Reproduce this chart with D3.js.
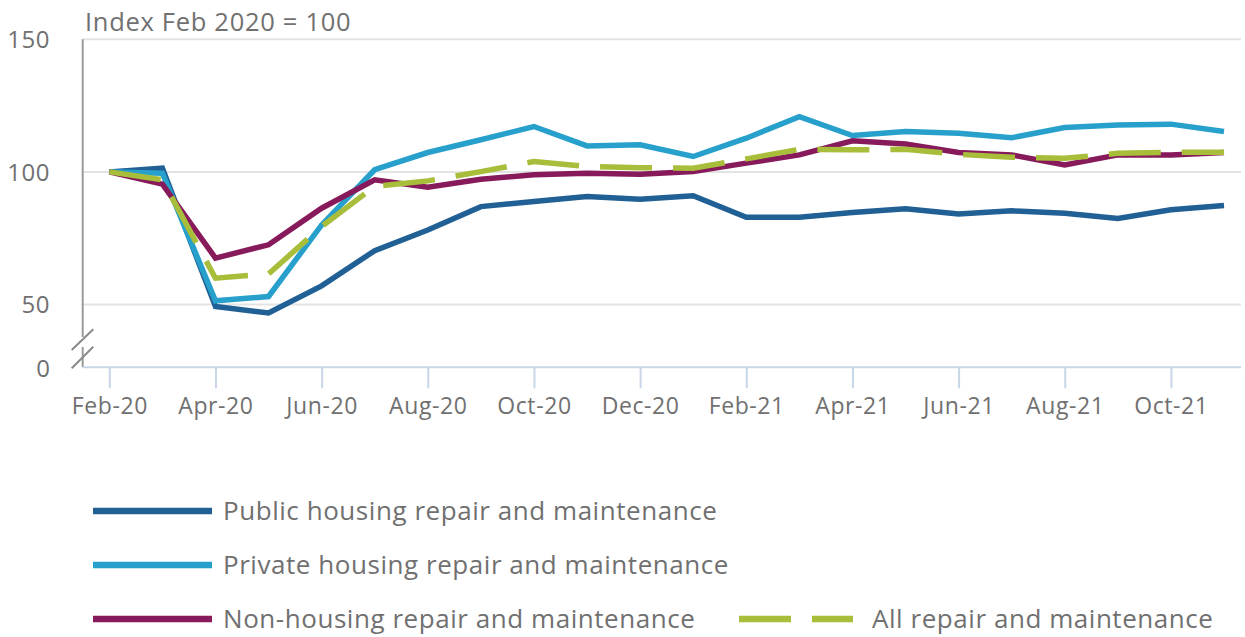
<!DOCTYPE html>
<html><head><meta charset="utf-8">
<script src="https://cdn.jsdelivr.net/npm/d3@7"></script>
<style>
body{margin:0;background:#fff;}
svg{display:block;font-family:"Open Sans",sans-serif;}
</style></head>
<body><svg id="c" width="1245" height="637"></svg>
<script>
const months = ["Feb-20","Mar-20","Apr-20","May-20","Jun-20","Jul-20","Aug-20","Sep-20","Oct-20","Nov-20","Dec-20","Jan-21","Feb-21","Mar-21","Apr-21","May-21","Jun-21","Jul-21","Aug-21","Sep-21","Oct-21","Nov-21"];
const xTickLabels = ["Feb-20","Apr-20","Jun-20","Aug-20","Oct-20","Dec-20","Feb-21","Apr-21","Jun-21","Aug-21","Oct-21"];
const yTickValues = [50,100,150];
const yBreakLabel = "0";
const publicHousing = [100,101.4,49.2,46.8,57.0,70.3,78.1,86.9,88.8,90.7,89.7,91.0,82.9,82.9,84.7,86.1,84.1,85.3,84.4,82.4,85.7,87.3];
const privateHousing = [100,99.5,51.4,53.0,80.0,100.8,107.3,112.1,117.1,109.8,110.2,105.8,112.7,120.8,113.7,115.2,114.6,112.9,116.7,117.7,118.0,115.2];
const nonHousing = [100,95.4,67.5,72.5,86.3,97.0,94.2,97.2,98.9,99.5,99.1,100.1,103.3,106.4,111.7,110.5,107.3,106.4,102.6,106.4,106.4,107.3];
const allRepair = [100,97.0,59.9,61.5,79.4,94.5,96.6,100.1,103.9,102.0,101.6,101.4,104.9,108.5,108.3,108.5,106.6,105.5,105.1,107.0,107.4,107.4];
const seriesNames = ["Public housing repair and maintenance","Private housing repair and maintenance","Non-housing repair and maintenance","All repair and maintenance"];
const yTitle = "Index Feb 2020 = 100";

const series = [
  {name: seriesNames[0], values: publicHousing, color: "#206095", dash: null},
  {name: seriesNames[1], values: privateHousing, color: "#27a0cc", dash: null},
  {name: seriesNames[2], values: nonHousing, color: "#871a5b", dash: null},
  {name: seriesNames[3], values: allRepair, color: "#a8bd3a", dash: "52,21"}
];

const svg = d3.select("#c");
const textCol = "#707070";
const pLeft = 82.7, pRight = 1241, pTop = 39.3, pBottom = 367.3;

const x = d3.scalePoint().domain(months).range([109.3, 1224]);
const y = d3.scaleLinear().domain([26.3, 150]).range([pBottom, pTop]);

// gridlines
svg.append("g").selectAll("line").data(yTickValues).join("line")
  .attr("x1", pLeft).attr("x2", pRight)
  .attr("y1", d => y(d)).attr("y2", d => y(d))
  .attr("stroke", "#e3e3e3").attr("stroke-width", 2);

// y labels
svg.append("g").selectAll("text").data(yTickValues).join("text")
  .attr("x", 50).attr("y", d => y(d)).attr("dy", "0.36em")
  .attr("text-anchor", "end").attr("fill", textCol).attr("font-size", 24)
  .attr("letter-spacing", 0.5)
  .text(d => d);
svg.append("text").attr("x", 50).attr("y", pBottom + 1).attr("dy", "0.36em")
  .attr("text-anchor", "end").attr("fill", textCol).attr("font-size", 24).text(yBreakLabel);

// y axis line with break
svg.append("line").attr("x1", pLeft).attr("x2", pLeft).attr("y1", pTop).attr("y2", 337)
  .attr("stroke", "#9a9a9a").attr("stroke-width", 2);
svg.append("line").attr("x1", pLeft).attr("x2", pLeft).attr("y1", 347).attr("y2", pBottom)
  .attr("stroke", "#9a9a9a").attr("stroke-width", 2);
[[350,329.3],[368.3,346.7]].forEach(([ya,yb]) => {
  svg.append("line").attr("x1", 71.7).attr("y1", ya).attr("x2", 93.3).attr("y2", yb)
    .attr("stroke", "#8a8a8a").attr("stroke-width", 2);
});

// x axis
const xAxis = d3.axisBottom(x).tickValues(xTickLabels).tickSize(21).tickPadding(9);
const gx = svg.append("g").attr("transform", `translate(0,${pBottom})`).call(xAxis);
gx.select(".domain").remove();
gx.selectAll(".tick line").attr("stroke", "#c9d6ea").attr("stroke-width", 2);
gx.selectAll(".tick text").attr("fill", textCol).attr("font-size", 23).attr("letter-spacing", 0.6)
  .attr("font-family", "Open Sans");
svg.append("line").attr("x1", pLeft).attr("x2", pRight).attr("y1", pBottom).attr("y2", pBottom)
  .attr("stroke", "#c9d6ea").attr("stroke-width", 2);

// title
svg.append("text").attr("x", 85).attr("y", 31).attr("fill", textCol).attr("font-size", 25.5)
  .attr("letter-spacing", 0.7).text(yTitle);

// lines
const line = d3.line().x((d,i) => x(months[i])).y(d => y(d));
series.forEach(s => {
  svg.append("path").datum(s.values).attr("d", line)
    .attr("fill", "none").attr("stroke", s.color).attr("stroke-width", 5.5)
    .attr("stroke-linejoin", "miter").attr("stroke-dasharray", s.dash);
});

// legend
const legendPos = [[93,511],[93,565],[93,619],[739,619]];
series.forEach((s,i) => {
  const [lx, ly] = legendPos[i];
  const g = svg.append("g");
  g.append("line").attr("x1", lx).attr("x2", lx + (i===3 ? 114 : 119)).attr("y1", ly).attr("y2", ly)
    .attr("stroke", s.color).attr("stroke-width", 6.5).attr("stroke-dasharray", s.dash);
  g.append("text").attr("x", lx + (i===3 ? 133 : 130)).attr("y", ly).attr("dy", "0.35em")
    .attr("fill", textCol).attr("font-size", 26).attr("letter-spacing", 0.55).text(s.name);
});
</script></body></html>
